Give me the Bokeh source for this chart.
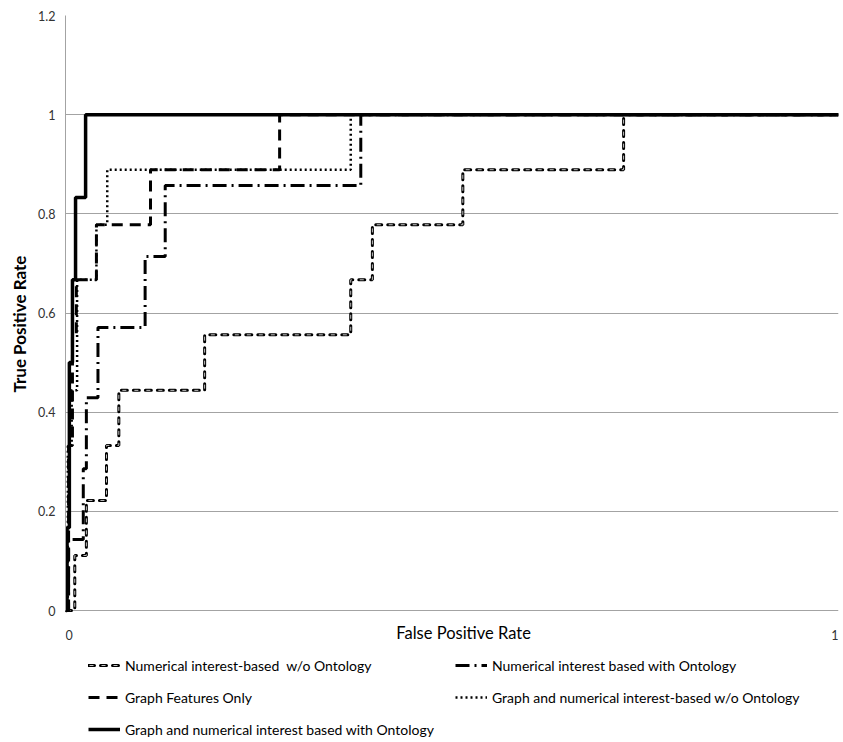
from bokeh.plotting import figure
from bokeh.models import Legend, LegendItem, FixedTicker, Label, Title
from bokeh.embed import file_html
from bokeh.resources import INLINE

# ROC curves: (false positive rate, true positive rate) corner points
num_wo_fpr = [0, 0.012, 0.012, 0.027, 0.027, 0.053, 0.053, 0.069, 0.069, 0.180, 0.180,
              0.369, 0.369, 0.397, 0.397, 0.514, 0.514, 0.722, 0.722, 1]
num_wo_tpr = [0, 0, 0.111, 0.111, 0.222, 0.222, 0.333, 0.333, 0.444, 0.444, 0.556,
              0.556, 0.667, 0.667, 0.778, 0.778, 0.889, 0.889, 1, 1]

num_with_fpr = [0, 0.004, 0.004, 0.023, 0.023, 0.027, 0.027, 0.042, 0.042, 0.103, 0.103,
                0.129, 0.129, 0.382, 0.382, 1]
num_with_tpr = [0, 0, 0.143, 0.143, 0.286, 0.286, 0.429, 0.429, 0.571, 0.571, 0.714,
                0.714, 0.857, 0.857, 1, 1]

graph_fpr = [0, 0.004, 0.004, 0.009, 0.009, 0.014, 0.014, 0.040, 0.040, 0.110, 0.110,
             0.277, 0.277, 1]
graph_tpr = [0, 0, 0.333, 0.333, 0.556, 0.556, 0.667, 0.667, 0.778, 0.778, 0.889,
             0.889, 1, 1]

gn_wo_fpr = [0, 0.003, 0.003, 0.008, 0.008, 0.015, 0.015, 0.040, 0.040, 0.054, 0.054,
             0.369, 0.369, 1]
gn_wo_tpr = [0, 0, 0.333, 0.333, 0.444, 0.444, 0.667, 0.667, 0.778, 0.778, 0.889,
             0.889, 1, 1]

gn_with_fpr = [0, 0.002, 0.002, 0.005, 0.005, 0.009, 0.009, 0.013, 0.013, 0.026, 0.026, 1]
gn_with_tpr = [0, 0, 0.167, 0.167, 0.5, 0.5, 0.667, 0.667, 0.833, 0.833, 1, 1]

series_names = [
    "Numerical interest-based  w/o Ontology",
    "Numerical interest based with Ontology",
    "Graph Features Only",
    "Graph and numerical interest-based w/o Ontology",
    "Graph and numerical interest based with Ontology",
]

x_ticks = [0, 1]
x_tick_labels = ["0", "1"]
y_ticks = [0, 0.2, 0.4, 0.6, 0.8, 1, 1.2]
y_tick_labels = ["0", "0.2", "0.4", "0.6", "0.8", "1", "1.2"]

x_title = "False Positive Rate"
y_title = "True Positive Rate"

FONT = "Lato"
GRID = "#a3a3a3"

# layout: plotted area 0..1.2 occupies 595 px; the frame continues below it
# down to the page bottom so that the x labels and the legend can live there
W, H = 843, 742
TOP, LEFT, RIGHT = 15, 65, 5
PX_PER_UNIT = 595 / 1.2
Y_BOTTOM = 1.2 - (H - TOP) / PX_PER_UNIT

p = figure(width=W, height=H, x_range=(0, 1), y_range=(Y_BOTTOM, 1.2),
           output_backend="svg", toolbar_location=None, x_axis_location=None,
           min_border_left=LEFT, min_border_right=RIGHT, min_border_top=TOP,
           min_border_bottom=0)
p.outline_line_color = None
p.background_fill_color = "white"
p.border_fill_color = "white"

p.yaxis.ticker = FixedTicker(ticks=y_ticks)
p.yaxis.bounds = (y_ticks[0], y_ticks[-1])
p.yaxis.major_label_overrides = {t: l for t, l in zip(y_ticks, y_tick_labels)}
p.yaxis.axis_line_color = GRID
p.yaxis.major_tick_line_color = None
p.yaxis.minor_tick_line_color = None
p.yaxis.major_tick_out = 0
p.yaxis.major_label_standoff = 10
p.yaxis.major_label_text_font = FONT
p.yaxis.major_label_text_font_size = "12.5px"
p.yaxis.major_label_text_color = "#333333"

# y title: vertical title in the left panel, started where the reference starts it
p.add_layout(Title(text=y_title, align="left", offset=350, standoff=12,
                   text_font=FONT, text_font_size="17px", text_font_style="bold",
                   text_color="black"), "left")

p.xgrid.visible = False
p.ygrid.ticker = FixedTicker(ticks=y_ticks)
p.ygrid.grid_line_color = GRID
p.ygrid.grid_line_width = 1

# x tick labels and x title, placed just under the zero line
for xv, lab, al in zip(x_ticks, x_tick_labels, ["left", "right"]):
    p.add_layout(Label(x=xv, y=y_ticks[0], y_offset=-24, text=lab,
                       text_align=al, text_baseline="middle", text_font=FONT,
                       text_font_size="12.5px", text_color="#333333"))
p.add_layout(Label(x=0.515, y=y_ticks[0], y_offset=-22, text=x_title,
                   text_align="center", text_baseline="middle", text_font=FONT,
                   text_font_size="16.5px", text_color="black"))

# curves
r1a = p.line(num_wo_fpr, num_wo_tpr, line_color="black", line_width=3,
             line_dash="6 6", line_cap="round")
r1b = p.line(num_wo_fpr, num_wo_tpr, line_color="#c4c4c4", line_width=1,
             line_dash="4 8", line_dash_offset=11)
r4 = p.line(gn_wo_fpr, gn_wo_tpr, line_color="black", line_width=2.5, line_dash="2 3")
r3 = p.line(graph_fpr, graph_tpr, line_color="black", line_width=3, line_dash="11 7")
r2 = p.line(num_with_fpr, num_with_tpr, line_color="black", line_width=3,
            line_dash="14 5 2 5")
r5 = p.line(gn_with_fpr, gn_with_tpr, line_color="black", line_width=3.5)

items = [
    LegendItem(label=series_names[0], renderers=[r1a, r1b]),
    LegendItem(label=series_names[2], renderers=[r3]),
    LegendItem(label=series_names[4], renderers=[r5]),
    LegendItem(label=series_names[1], renderers=[r2]),
    LegendItem(label=series_names[3], renderers=[r4]),
]
legend = Legend(items=items, ncols=2, orientation="vertical", location=(23, 3),
                padding=0, margin=0, spacing=12, glyph_width=32, glyph_height=20,
                label_height=20, label_width=318, label_standoff=5,
                border_line_color=None, background_fill_alpha=0,
                label_text_font=FONT, label_text_font_size="14px",
                label_text_color="black")
p.add_layout(legend)

open("out.html", "w").write(file_html(p, INLINE))
